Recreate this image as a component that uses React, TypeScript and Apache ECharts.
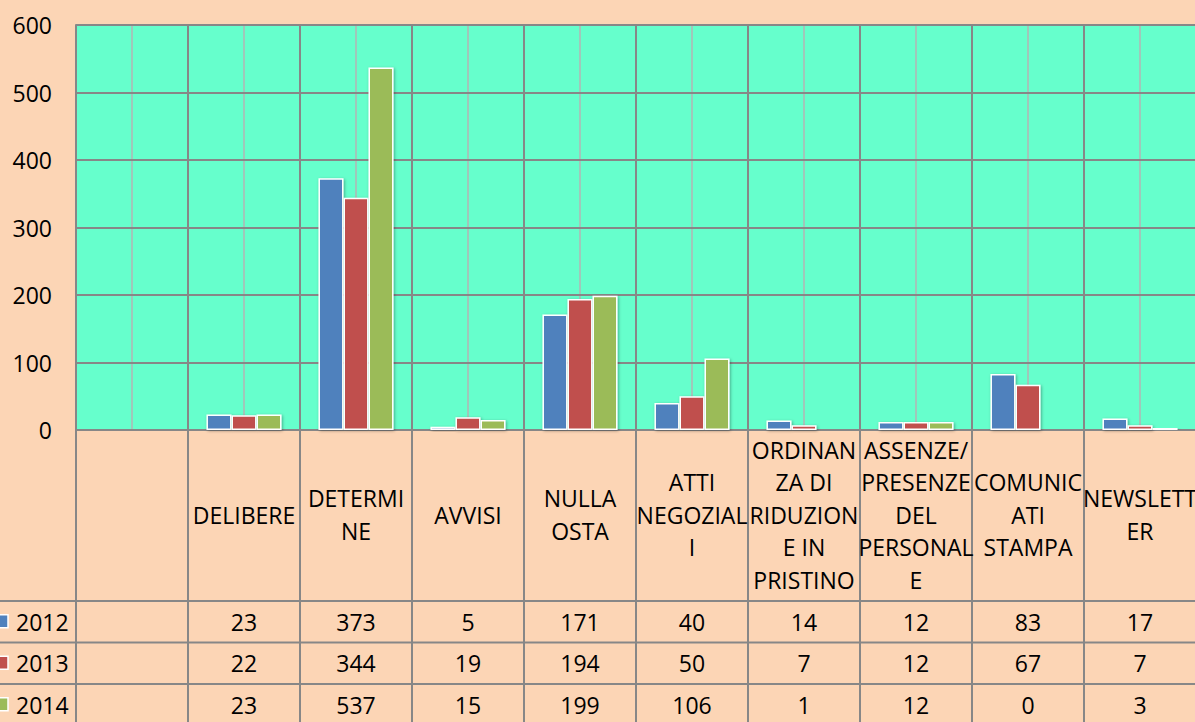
import React, { useEffect, useRef } from "react";
import * as echarts from "echarts";

const categories = [
  "",
  "DELIBERE",
  "DETERMINE",
  "AVVISI",
  "NULLA OSTA",
  "ATTI NEGOZIALI",
  "ORDINANZA DI RIDUZIONE IN PRISTINO",
  "ASSENZE/PRESENZE DEL PERSONALE",
  "COMUNICATI STAMPA",
  "NEWSLETTER",
];
const categoryLabels = [
  "",
  "DELIBERE",
  "DETERMI\nNE",
  "AVVISI",
  "NULLA\nOSTA",
  "ATTI\nNEGOZIAL\nI",
  "ORDINAN\nZA DI\nRIDUZION\nE IN\nPRISTINO",
  "ASSENZE/\nPRESENZE\nDEL\nPERSONAL\nE",
  "COMUNIC\nATI\nSTAMPA",
  "NEWSLETT\nER",
];
const seriesNames = ["2012", "2013", "2014"];
const values2012 = [null, 23, 373, 5, 171, 40, 14, 12, 83, 17];
const values2013 = [null, 22, 344, 19, 194, 50, 7, 12, 67, 7];
const values2014 = [null, 23, 537, 15, 199, 106, 1, 12, 0, 3];
const allValues = [values2012, values2013, values2014];
const colors = ["#4F81BD", "#C0504D", "#9BBB59"];
const yMin = 0;
const yMax = 600;
const yInterval = 100;

const W = 1195;
const H = 722;
const FONT = "'Open Sans', sans-serif";
const FS = 23;
const GRID_LEFT = 76;
const GRID_TOP = 25;
const AXIS_Y = 430;
const ROW_TOP = 601;
const ROW_H = 41.5;
const MAJOR = "#878787";
const MINOR = "#b4b4b4";

export default function App() {
  const ref = useRef<HTMLDivElement>(null);
  useEffect(() => {
    document.body.style.margin = "0";
    if (!ref.current) return;
    const chart = echarts.init(ref.current, null, { renderer: "svg" });

    const tableAxes = allValues.map((vals, r) => ({
      type: "category",
      data: categories,
      position: "bottom",
      gridIndex: 0,
      axisLine: { show: false },
      axisTick: { show: false },
      splitLine: { show: false },
      axisLabel: {
        show: true,
        interval: 0,
        margin: ROW_TOP + ROW_H * r + ROW_H / 2 - AXIS_Y,
        verticalAlign: "middle",
        fontFamily: FONT,
        fontSize: FS,
        color: "#000",
        formatter: (_v: string, i: number) => (vals[i] == null ? "" : String(vals[i])),
      },
    }));

    const graphics: any[] = [];
    [0, 1, 2].forEach((r) => {
      graphics.push({
        type: "line",
        shape: { x1: 0, y1: ROW_TOP + ROW_H * r, x2: W, y2: ROW_TOP + ROW_H * r },
        style: { stroke: MAJOR, lineWidth: 2 },
        z: 10,
      });
    });
    seriesNames.forEach((name, r) => {
      const cy = ROW_TOP + ROW_H * r + ROW_H / 2;
      graphics.push({
        type: "rect",
        shape: { x: -4, y: cy - 7, width: 12, height: 13 },
        style: { fill: colors[r], stroke: "#fff", lineWidth: 1.5 },
        z: 10,
      });
      graphics.push({
        type: "text",
        x: 16,
        y: cy,
        style: {
          text: name,
          fontFamily: FONT,
          fontSize: FS,
          fill: "#000",
          verticalAlign: "middle",
          align: "left",
        },
        z: 10,
      });
    });

    chart.setOption({
      animation: false,
      backgroundColor: "#FCD5B5",
      grid: {
        left: GRID_LEFT,
        right: -1,
        top: GRID_TOP,
        bottom: H - AXIS_Y,
        show: true,
        backgroundColor: "#66FFCC",
        borderWidth: 0,
        containLabel: false,
        outerBoundsMode: "none",
      },
      xAxis: [
        {
          type: "category",
          data: categories,
          position: "bottom",
          boundaryGap: true,
          z: 2,
          axisLine: { show: true, lineStyle: { color: MAJOR, width: 2 } },
          axisTick: {
            show: true,
            length: H - AXIS_Y,
            lineStyle: { color: MAJOR, width: 2 },
          },
          splitLine: { show: true, lineStyle: { color: MAJOR, width: 2 } },
          axisLabel: {
            show: true,
            interval: 0,
            margin: (ROW_TOP - AXIS_Y) / 2 - 1,
            verticalAlign: "middle",
            align: "center",
            lineHeight: 32.5,
            fontFamily: FONT,
            fontSize: FS,
            color: "#000",
            formatter: (_v: string, i: number) => categoryLabels[i],
          },
        },
        {
          type: "value",
          min: 0,
          max: categories.length * 2,
          interval: 1,
          position: "top",
          z: 0,
          axisLine: { show: false },
          axisTick: { show: false },
          axisLabel: { show: false },
          splitLine: { show: true, lineStyle: { color: MINOR, width: 1.5 } },
        },
        ...tableAxes,
      ],
      yAxis: {
        type: "value",
        min: yMin,
        max: yMax,
        interval: yInterval,
        z: 2,
        axisLine: { show: true, lineStyle: { color: MAJOR, width: 2 } },
        axisTick: { show: false },
        splitLine: { show: true, lineStyle: { color: MAJOR, width: 2 } },
        axisLabel: {
          margin: 24,
          fontFamily: FONT,
          fontSize: FS,
          color: "#000",
        },
      },
      series: allValues.map((vals, k) => ({
        name: seriesNames[k],
        type: "bar",
        xAxisIndex: 0,
        yAxisIndex: 0,
        data: vals,
        barGap: "0%",
        barCategoryGap: "33%",
        z: 3,
        itemStyle: {
          color: colors[k],
          borderColor: "#fff",
          borderWidth: 1.5,
          shadowBlur: 3,
          shadowColor: "rgba(0,0,0,0.35)",
          shadowOffsetX: 1,
          shadowOffsetY: 1,
        },
      })),
      graphic: graphics,
    });
    return () => chart.dispose();
  }, []);
  return <div ref={ref} style={{ width: W, height: H }} />;
}
